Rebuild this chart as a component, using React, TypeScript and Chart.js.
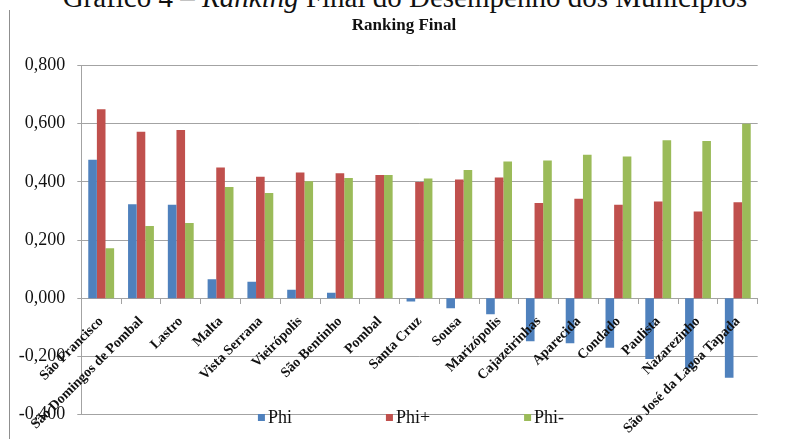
import React, { useEffect, useRef } from 'react';
import { Chart, registerables } from 'chart.js';

Chart.register(...registerables);

// Municípios ordered by final ranking (net flow Phi)
const municipios = [
  'São Francisco',
  'São Domingos de Pombal',
  'Lastro',
  'Malta',
  'Vista Serrana',
  'Vieirópolis',
  'São Bentinho',
  'Pombal',
  'Santa Cruz',
  'Sousa',
  'Marizópolis',
  'Cajazeirinhas',
  'Aparecida',
  'Condado',
  'Paulista',
  'Nazarezinho',
  'São José da Lagoa Tapada',
];

const phi = [0.476, 0.323, 0.321, 0.065, 0.057, 0.029, 0.019, 0.0, -0.011, -0.034, -0.055, -0.148, -0.155, -0.17, -0.209, -0.241, -0.273];
const phiPlus = [0.649, 0.572, 0.578, 0.449, 0.417, 0.432, 0.429, 0.423, 0.399, 0.408, 0.415, 0.327, 0.342, 0.321, 0.332, 0.298, 0.33];
const phiMinus = [0.172, 0.248, 0.258, 0.382, 0.361, 0.402, 0.413, 0.423, 0.411, 0.44, 0.47, 0.473, 0.493, 0.487, 0.543, 0.54, 0.599];

const seriesLabels = ['Phi', 'Phi+', 'Phi-'];
const seriesColors = ['#4F81BD', '#C0504D', '#9BBB59'];

const yMin = -0.4;
const yMax = 0.8;
const yStep = 0.2;

const SERIF = '"Liberation Serif", "Times New Roman", serif';
const GRID = '#a3a3a3';

const formatTick = (v: number) => (Math.abs(v) < 1e-9 ? 0 : v).toFixed(3).replace('.', ',');

// Legend row drawn across the bottom gridline, and the chart title nudged to its centre
const legendRow = {
  id: 'legendRow',
  afterLayout(chart: any) {
    const t = chart.titleBlock;
    if (t) {
      const shift = 404 - (t.left + t.right) / 2;
      t.left += shift;
      t.right += shift;
    }
  },
  afterDraw(chart: any) {
    const ctx = chart.ctx as CanvasRenderingContext2D;
    const box = 7;
    const gap = 3;
    const spacing = 94;
    const centerX = 411;
    const y = 417.5;
    ctx.save();
    ctx.font = `18px ${SERIF}`;
    ctx.textBaseline = 'middle';
    ctx.textAlign = 'left';
    const items = chart.data.datasets.map((ds: any) => ({
      text: ds.label as string,
      color: ds.backgroundColor as string,
      w: ctx.measureText(ds.label).width,
    }));
    const total =
      items.reduce((s: number, it: any) => s + box + gap + it.w, 0) + spacing * (items.length - 1);
    let x = centerX - total / 2;
    for (const it of items) {
      ctx.fillStyle = it.color;
      ctx.fillRect(x, y - box / 2, box, box);
      ctx.fillStyle = '#111';
      ctx.fillText(it.text, x + box + gap, y + 1);
      x += box + gap + it.w + spacing;
    }
    ctx.restore();
  },
};

export default function App() {
  const canvasRef = useRef<HTMLCanvasElement | null>(null);

  useEffect(() => {
    if (!canvasRef.current) return;
    const chart = new Chart(canvasRef.current, {
      type: 'bar',
      data: {
        labels: municipios,
        datasets: [phi, phiPlus, phiMinus].map((values, i) => ({
          label: seriesLabels[i],
          data: values,
          backgroundColor: seriesColors[i],
          borderWidth: 0,
          categoryPercentage: 0.65,
          barPercentage: 1,
        })),
      },
      options: {
        responsive: false,
        animation: false,
        layout: { padding: { left: 0, right: 35.3, top: 0, bottom: 24.3 } },
        plugins: {
          legend: { display: false },
          tooltip: { enabled: false },
          title: {
            display: true,
            text: 'Ranking Final',
            color: '#111',
            font: { family: SERIF, size: 17, weight: 'bold' },
            padding: { top: 15, bottom: 29.9 },
          },
        },
        scales: {
          x: {
            position: { y: 0 } as any,
            offset: true,
            grid: {
              display: true,
              offset: true,
              drawOnChartArea: false,
              drawTicks: true,
              tickLength: 5,
              color: GRID,
            },
            border: { display: true, color: GRID },
            ticks: {
              z: 1,
              autoSkip: false,
              minRotation: 45,
              maxRotation: 45,
              padding: 10,
              color: '#111',
              font: { family: SERIF, size: 14, weight: 'bold' },
            },
          },
          y: {
            min: yMin,
            max: yMax,
            afterFit: (scale: any) => {
              scale.width = 81.3;
            },
            grid: { color: GRID, tickLength: 4 },
            border: { display: true, color: GRID },
            ticks: {
              stepSize: yStep,
              padding: 12,
              color: '#111',
              font: { family: SERIF, size: 18 },
              callback: (v: any) => formatTick(Number(v)),
            },
          },
        },
      },
      plugins: [legendRow],
    });
    return () => chart.destroy();
  }, []);

  return (
    <div
      style={{
        position: 'absolute',
        left: 0,
        top: 0,
        width: 793,
        height: 439,
        overflow: 'hidden',
        background: '#fff',
      }}
    >
      <div
        style={{
          position: 'absolute',
          left: 0,
          top: -17,
          width: 810,
          textAlign: 'center',
          fontFamily: SERIF,
          fontSize: 29,
          lineHeight: '29px',
          whiteSpace: 'nowrap',
          color: '#111',
        }}
      >
        Gráfico 4 – <i>Ranking</i> Final do Desempenho dos Municípios
      </div>
      <div
        style={{
          position: 'absolute',
          left: 9,
          top: 10,
          width: 0,
          height: 429,
          borderLeft: '1.5px solid #8f8f8f',
        }}
      />
      <canvas
        ref={canvasRef}
        width={793}
        height={439}
        style={{ position: 'absolute', left: 0, top: 0, width: 793, height: 439 }}
      />
    </div>
  );
}
